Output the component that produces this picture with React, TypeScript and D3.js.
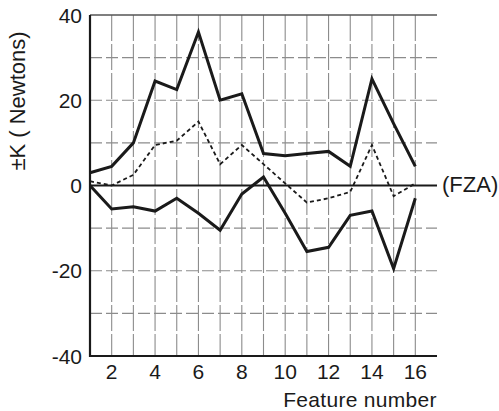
import React from "react";
import * as d3 from "d3";

const features = [1, 2, 3, 4, 5, 6, 7, 8, 9, 10, 11, 12, 13, 14, 15, 16];
const upper = [3, 4.5, 10, 24.5, 22.5, 36, 20, 21.5, 7.5, 7, 7.5, 8, 4.5, 25, 14.5, 4.5];
const middle = [1, 0, 2.5, 9.5, 10.5, 15, 5, 9.5, 5, 0.5, -4, -3, -1.5, 9.5, -2.5, 0.5];
const lower = [0, -5.5, -5, -6, -3, -6.5, -10.5, -2, 2, -6.5, -15.5, -14.5, -7, -6, -19.5, -3];
const xTicks = [2, 4, 6, 8, 10, 12, 14, 16];
const yTicks = [-40, -20, 0, 20, 40];
const yGrid = [-30, -20, -10, 10, 20, 30];
const xGrid = [2, 3, 4, 5, 6, 7, 8, 9, 10, 11, 12, 13, 14, 15, 16];

export default function App() {
  const W = 499, H = 411;
  const left = 90, right = 437, top = 15, bottom = 356;
  const x = d3.scaleLinear().domain([1, 17]).range([left, right]);
  const y = d3.scaleLinear().domain([-40, 40]).range([bottom, top]);
  const line = d3.line<number>().x((_, i) => x(features[i])).y((d) => y(d));
  const font = "'Liberation Sans', Arial, sans-serif";
  const ink = "#1a1a1a";
  return (
    <svg width={W} height={H} style={{ position: "absolute", left: 0, top: 0, background: "#fff" }}>
      {/* grid */}
      {xGrid.map((f) => (
        <line key={"vx" + f} x1={x(f)} x2={x(f)} y1={top} y2={bottom} stroke="#8c8c8c" strokeWidth={1.1} strokeDasharray="26,3" />
      ))}
      {yGrid.map((v) => (
        <line key={"hy" + v} x1={left} x2={right} y1={y(v)} y2={y(v)} stroke="#8c8c8c" strokeWidth={1.1} strokeDasharray="12,4" />
      ))}
      {/* top border */}
      <line x1={left} x2={right} y1={y(40)} y2={y(40)} stroke="#555" strokeWidth={1.5} />
      {/* zero line */}
      <line x1={left} x2={right} y1={y(0)} y2={y(0)} stroke={ink} strokeWidth={1.8} />
      {/* axes */}
      <line x1={left} x2={left} y1={top} y2={bottom + 1} stroke={ink} strokeWidth={2.2} />
      <line x1={left} x2={right} y1={bottom} y2={bottom} stroke={ink} strokeWidth={2.2} />
      {/* series */}
      <path d={line(middle) || ""} fill="none" stroke={ink} strokeWidth={1.8} strokeDasharray="4,3" />
      <path d={line(upper) || ""} fill="none" stroke={ink} strokeWidth={3} strokeLinejoin="miter" />
      <path d={line(lower) || ""} fill="none" stroke={ink} strokeWidth={3} strokeLinejoin="miter" />
      {/* y tick labels */}
      {yTicks.map((v) => (
        <text key={"yt" + v} x={82} y={y(v) + 7.5} textAnchor="end" fontFamily={font} fontSize={21} fill={ink}>
          {v}
        </text>
      ))}
      {/* x tick labels */}
      {xTicks.map((f) => (
        <text key={"xt" + f} x={x(f)} y={379} textAnchor="middle" fontFamily={font} fontSize={21} fill={ink}>
          {f}
        </text>
      ))}
      <text x={442} y={192} fontFamily={font} fontSize={22} fill={ink}>(FZA)</text>
      <text x={360} y={407} textAnchor="middle" fontFamily={font} fontSize={21} letterSpacing={0.3} fill={ink}>Feature number</text>
      <text transform={`translate(25,101) rotate(-90)`} textAnchor="middle" fontFamily={font} fontSize={22} fill={ink}>
        ±K ( Newtons)
      </text>
    </svg>
  );
}
